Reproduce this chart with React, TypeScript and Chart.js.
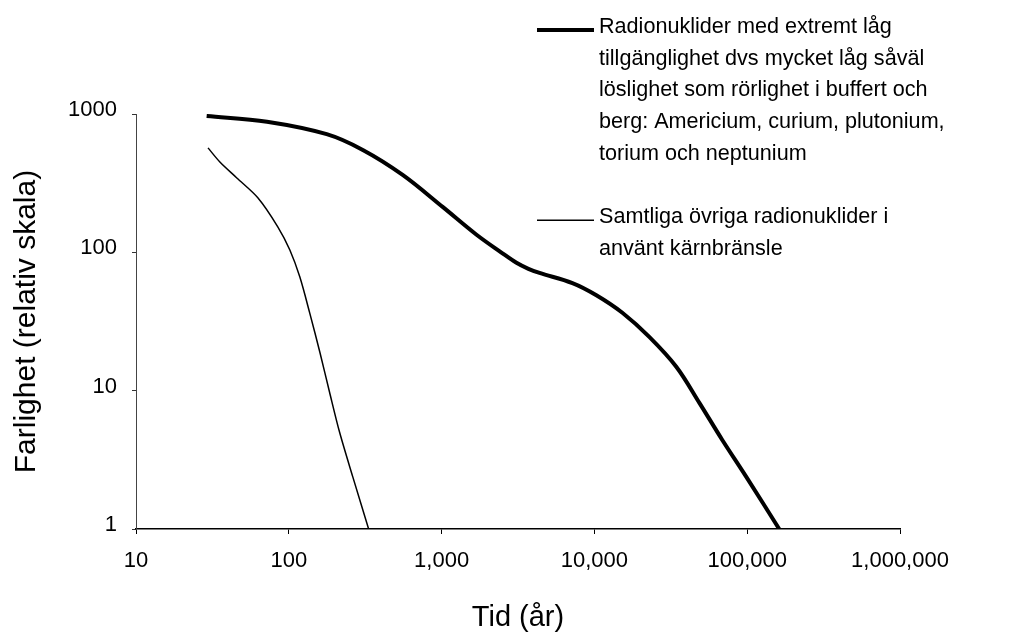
import React, { useEffect, useRef } from "react";
import { Chart, registerables } from "chart.js";

Chart.register(...registerables);

// Time (years) and hazard (relative scale)
const timeThick = [29, 72, 177, 305, 556, 1016, 1693, 2450, 3090, 3700, 4375, 7180, 10300, 15240, 22860, 34340, 48530, 68700, 98400, 162000];
const valueThick = [968, 880, 715, 550, 363, 213, 134, 100, 84, 76, 71, 60, 49, 36.6, 24.5, 14.9, 8.2, 4.4, 2.39, 1];

const timeThin = [29.6, 35.4, 45.7, 62.7, 84.7, 101.6, 118, 137, 160, 185, 215, 262, 333];
const valueThin = [569, 450, 345, 248, 153, 104, 66.5, 36.5, 18.8, 9.7, 5.0, 2.39, 1];

const xTickValues = [10, 100, 1000, 10000, 100000, 1000000];
const xTickLabels = ["10", "100", "1,000", "10,000", "100,000", "1,000,000"];
const yTickValues = [1, 10, 100, 1000];
const yTickLabels = ["1", "10", "100", "1000"];

const legendThick = [
  "Radionuklider med extremt låg",
  "tillgänglighet dvs mycket låg såväl",
  "löslighet som rörlighet i buffert och",
  "berg: Americium, curium, plutonium,",
  "torium och neptunium",
];
const legendThin = ["Samtliga övriga radionuklider i", "använt kärnbränsle"];

const xTitle = "Tid (år)";
const yTitle = "Farlighet (relativ skala)";

const FONT = "'Liberation Sans', Arial, Helvetica, sans-serif";

const legendPlugin = {
  id: "customLegend",
  afterDraw(chart: any) {
    const ctx = chart.ctx;
    const entries = [
      { lines: legendThick, ds: chart.data.datasets[0], startLine: 0 },
      { lines: legendThin, ds: chart.data.datasets[1], startLine: 6 },
    ];
    const baseY = 33;
    const lh = 31.7;
    ctx.save();
    ctx.font = `21.6px ${FONT}`;
    ctx.fillStyle = "#000";
    ctx.textAlign = "left";
    ctx.textBaseline = "alphabetic";
    entries.forEach((e) => {
      const y0 = baseY + e.startLine * lh;
      ctx.beginPath();
      ctx.strokeStyle = e.ds.borderColor;
      ctx.lineWidth = e.ds.borderWidth;
      ctx.moveTo(537, y0 - 3);
      ctx.lineTo(594, y0 - 3);
      ctx.stroke();
      e.lines.forEach((t: string, i: number) => {
        ctx.fillText(t, 599, y0 + i * lh);
      });
    });
    ctx.restore();
  },
};

export default function App() {
  const ref = useRef<HTMLCanvasElement | null>(null);

  useEffect(() => {
    if (!ref.current) return;
    const chart = new Chart(ref.current, {
      type: "line",
      data: {
        datasets: [
          {
            label: legendThick.join(" "),
            data: timeThick.map((t, i) => ({ x: t, y: valueThick[i] })),
            borderColor: "#000",
            borderWidth: 4,
            pointRadius: 0,
            tension: 0.35,
            fill: false,
          },
          {
            label: legendThin.join(" "),
            data: timeThin.map((t, i) => ({ x: t, y: valueThin[i] })),
            borderColor: "#000",
            borderWidth: 1.5,
            pointRadius: 0,
            tension: 0.3,
            fill: false,
          },
        ],
      },
      options: {
        animation: false,
        responsive: false,
        devicePixelRatio: 1,
        layout: { padding: { top: 114, right: 119, left: 0, bottom: 0 } },
        plugins: { legend: { display: false }, tooltip: { enabled: false } },
        scales: {
          x: {
            type: "logarithmic",
            position: "bottom",
            min: 10,
            max: 1000000,
            afterBuildTicks: (s: any) => {
              s.ticks = xTickValues.map((v) => ({ value: v }));
            },
            afterFit: (s: any) => {
              s.height = 110;
            },
            ticks: {
              autoSkip: false,
              maxRotation: 0,
              padding: 14,
              color: "#000",
              font: { family: FONT, size: 22 },
              callback: (v: any) => xTickLabels[xTickValues.indexOf(Number(v))] ?? "",
            },
            grid: { drawOnChartArea: false, drawTicks: true, tickLength: 5, color: "#000", lineWidth: 1 },
            border: { display: true, color: "#000", width: 1.5 },
            title: {
              display: true,
              text: xTitle,
              color: "#000",
              font: { family: FONT, size: 29 },
              padding: { top: 0, bottom: 4 },
            },
          },
          y: {
            type: "logarithmic",
            position: "left",
            min: 1,
            max: 1000,
            afterBuildTicks: (s: any) => {
              s.ticks = yTickValues.map((v) => ({ value: v }));
            },
            afterFit: (s: any) => {
              s.width = 136;
            },
            ticks: {
              autoSkip: false,
              padding: 15,
              labelOffset: -4,
              color: "#000",
              font: { family: FONT, size: 22 },
              callback: (v: any) => yTickLabels[yTickValues.indexOf(Number(v))] ?? "",
            },
            grid: { drawOnChartArea: false, drawTicks: true, tickLength: 4, color: "#333", lineWidth: 1 },
            border: { display: true, color: "#444", width: 1 },
            title: {
              display: true,
              text: yTitle,
              color: "#000",
              font: { family: FONT, size: 30 },
              padding: { top: 9, bottom: 0 },
            },
          },
        },
      } as any,
      plugins: [legendPlugin],
    });
    return () => chart.destroy();
  }, []);

  return (
    <div style={{ position: "absolute", left: 0, top: 0, width: 1019, height: 639, background: "#fff" }}>
      <canvas ref={ref} width={1019} height={639} style={{ width: 1019, height: 639 }} />
    </div>
  );
}
